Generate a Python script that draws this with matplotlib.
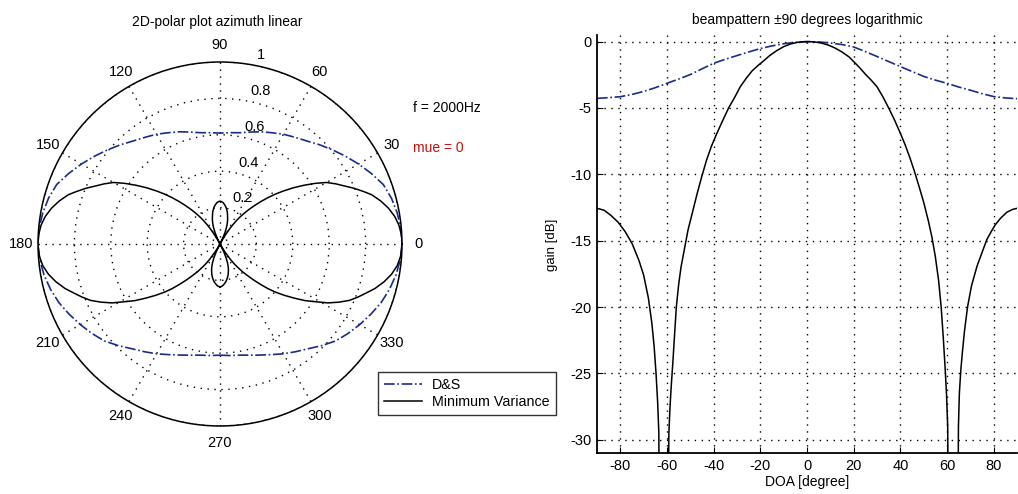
import numpy as np
import matplotlib.pyplot as plt

# beampattern values (DOA in degree, gain in dB)
doa_ds = [-90, -85, -80, -75, -70, -65, -60, -55, -50, -45, -40, -35, -30, -25,
          -20, -15, -10, -5, 0, 5, 10, 15, 20, 25, 30, 35, 40, 45, 50, 55, 60,
          65, 70, 75, 80, 85, 90]
gain_ds = [-4.28, -4.22, -4.15, -3.98, -3.75, -3.47, -3.14, -2.82, -2.48, -2.05,
           -1.63, -1.33, -1.05, -0.78, -0.52, -0.32, -0.16, -0.05, 0.0, -0.02,
           -0.1, -0.22, -0.4, -0.75, -1.12, -1.5, -1.88, -2.25, -2.62, -2.9, -3.14,
           -3.42, -3.66, -3.92, -4.14, -4.24, -4.3]

doa_mv = [-90, -87, -84, -81, -78, -75, -72, -70, -68, -66.5, -65.5, -64.7, -64,
          -63.5, -63.2, -61.5, -59.6, -59.2, -58.7, -58.2, -57.5, -56.8, -56,
          -55, -54, -52.5, -51, -49, -47, -45, -43, -41, -38.6, -36, -33.6, -31,
          -28.6, -26, -23.5, -21, -18.6, -16, -13, -10, -7, -4, -1, 1, 3, 6, 9,
          12, 15, 18, 20, 22.5, 25, 27.5, 30, 32.5, 35, 37.5, 40, 42, 44, 46, 48,
          50, 52, 53.5, 55, 56.4, 57.5, 58.4, 59.2, 59.8, 60.3, 60.7, 62.6, 64.6,
          64.9, 65.3, 65.9, 66.6, 67.5, 68.8, 70.5, 72.9, 75, 77.1, 79, 80.7,
          83, 85.7, 88, 90]
gain_mv = [-12.56, -12.7, -13.1, -13.6, -14.3, -15.2, -16.5, -17.6, -19.3, -21.2,
           -23.0, -25.0, -27.2, -29.5, -40.0, -36.0, -40.0, -29.5, -27.5, -26.0,
           -24.2, -22.2, -20.0, -18.3, -17.0, -15.6, -14.2, -12.8, -11.4, -10.1,
           -8.9, -7.9, -6.9, -5.9, -5.0, -4.2, -3.4, -2.75, -2.2, -1.8, -1.45,
           -1.05, -0.68, -0.38, -0.17, -0.05, 0.0, 0.0, -0.02, -0.1, -0.25, -0.48,
           -0.78, -1.15, -1.5, -1.95, -2.45, -2.9, -3.4, -4.15, -5.0, -5.9, -6.9,
           -7.75, -8.7, -9.75, -10.9, -12.1, -13.5, -14.7, -16.2, -18.0, -20.0,
           -22.3, -24.6, -26.6, -29.0, -40.0, -36.0, -40.0, -29.0, -26.5, -24.8,
           -23.4, -21.8, -20.0, -18.4, -16.9, -15.9, -14.9, -14.3, -13.8, -13.3,
           -12.85, -12.65, -12.56]

plt.rcParams['font.family'] = ['Liberation Sans', 'DejaVu Sans']
plt.rcParams['axes.unicode_minus'] = False

navy = '#1c2a8c'
dots = (0, (1, 4))

W, H = 1018, 494
fig = plt.figure(figsize=(W / 100, H / 100), dpi=100)

# ---- polar plot (linear gain, front/back mirrored) ----
axp = fig.add_axes([38 / W, 68 / H, 364 / W, 364 / H], projection='polar')


def to_polar(doa, gain):
    doa = np.array(doa, dtype=float)
    r = 10 ** (np.array(gain) / 20.0)
    th = np.concatenate([doa, 180 - doa[::-1]])
    rr = np.concatenate([r, r[::-1]])
    return np.deg2rad(th), rr


th_ds, r_ds = to_polar(doa_ds, gain_ds)
th_mv, r_mv = to_polar(doa_mv, gain_mv)

l1, = axp.plot(th_ds, r_ds, color=navy, ls='-.', lw=1.2, label='D&S')
l2, = axp.plot(th_mv, r_mv, color='black', ls='-', lw=1.1, label='Minimum Variance')

axp.set_ylim(0, 1)
axp.set_yticks([0.2, 0.4, 0.6, 0.8, 1.0])
axp.set_yticklabels([])
axp.set_thetagrids(np.arange(0, 360, 30), labels=[str(a) for a in range(0, 360, 30)])
axp.tick_params(axis='x', labelsize=10.5, pad=1.5)
axp.grid(True, color='black', linestyle=dots, linewidth=1)
axp.spines['polar'].set_linewidth(1.1)
axp.spines['polar'].set_color('black')

for rv, lab in zip([0.2, 0.4, 0.6, 0.8, 1.0], ['0.2', '0.4', '0.6', '0.8', '1']):
    axp.annotate(lab, xy=(np.deg2rad(80), rv), xytext=(4, 7), textcoords='offset points',
                 ha='left', va='center', fontsize=10.5)

fig.text(217 / W, 1 - 22 / H, '2D-polar plot azimuth linear', ha='center', va='center',
         fontsize=10)
fig.text(413 / W, 1 - 108 / H, 'f = 2000Hz', ha='left', va='center', fontsize=10)
fig.text(413 / W, 1 - 148 / H, 'mue = 0', ha='left', va='center', fontsize=10,
         color='#c01010')

fig.legend(handles=[l1, l2], loc='upper left', bbox_to_anchor=(378 / W, 1 - 372 / H),
           fontsize=10.3, frameon=True, fancybox=False, edgecolor='black',
           handlelength=2.6, borderpad=0.45, labelspacing=0.15, borderaxespad=0,
           handletextpad=0.7)

# ---- logarithmic beampattern ----
ax = fig.add_axes([597 / W, 41 / H, 420 / W, 418 / H])
ax.plot(doa_ds, gain_ds, color=navy, ls='-.', lw=1.2)
ax.plot(doa_mv, gain_mv, color='black', ls='-', lw=1.1)
ax.set_xlim(-90, 90)
ax.set_ylim(-31, 0.5)
ax.set_xticks(np.arange(-80, 81, 20))
ax.set_yticks(np.arange(0, -31, -5))
ax.grid(True, color='black', linestyle=dots, linewidth=1)
ax.spines['top'].set_visible(False)
ax.spines['right'].set_visible(False)
ax.spines['left'].set_linewidth(1.3)
ax.spines['bottom'].set_linewidth(1.3)
ax.tick_params(direction='in', labelsize=10.5, length=4, pad=4)

fig.text(807 / W, 1 - 20 / H, 'beampattern \u00b190 degrees logarithmic', ha='center',
         va='center', fontsize=10)
fig.text(807 / W, 1 - 482 / H, 'DOA [degree]', ha='center', va='center', fontsize=10)
fig.text(552 / W, 1 - 245 / H, 'gain [dB]', ha='center', va='center', fontsize=9.5,
         rotation=90)

fig.savefig('out.png', dpi=100)
